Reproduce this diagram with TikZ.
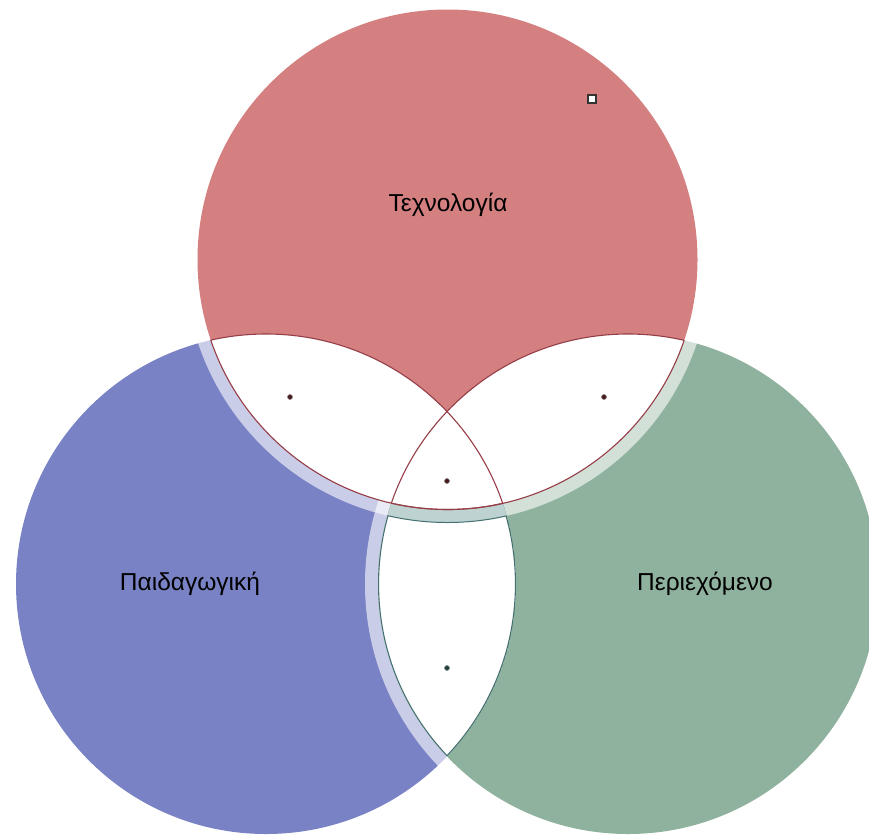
\documentclass[tikz,border=0pt]{standalone}
\usepackage{fontspec}
\setmainfont{Liberation Sans}
\usetikzlibrary{positioning}
\definecolor{techred}{RGB}{212,128,128}
\definecolor{pedblue}{RGB}{121,130,196}
\definecolor{contgreen}{RGB}{143,178,158}
\definecolor{lensred}{RGB}{150,62,72}
\definecolor{lensteal}{RGB}{68,112,112}
\definecolor{halogrey}{RGB}{190,210,210}

\begin{document}
\begin{tikzpicture}[x=1pt,y=-1pt,
    halo/.style={fill=white, fill opacity=0.6},
    edgered/.style={draw=lensred, line width=1.1pt},
    edgeteal/.style={draw=lensteal, line width=2.2pt},
    dot/.style={circle, fill=#1, draw=#1!60, line width=0.6pt, inner sep=0pt, minimum size=5pt},
    setname/.style={font=\fontsize{24.5}{29}\selectfont, text=black}]
    \useasboundingbox (0,0) rectangle (869,835);
    \def\rad{250pt}
    \def\halorad{263pt}
    \coordinate (tech) at (447.5,259.5);
    \coordinate (ped) at (266,584);
    \coordinate (cont) at (628,584);

    % the three sets
    \fill[pedblue] (ped) circle (\rad);
    \fill[halo, even odd rule] (cont) circle (\halorad) (cont) circle (\rad);
    \fill[contgreen] (cont) circle (\rad);
    \fill[halo, even odd rule] (tech) circle (\halorad) (tech) circle (\rad);
    \fill[techred] (tech) circle (\rad);

    % overlap of Paidagogiki and Periechomeno
    \begin{scope}
        \clip (ped) circle (\rad);
        \clip (cont) circle (\rad);
        \fill[white] (ped) circle (\rad);
        \draw[edgeteal] (ped) circle (\rad) (cont) circle (\rad);
        \fill[halogrey, even odd rule] (tech) circle (\halorad) (tech) circle (\rad);
        \draw[draw=lensteal, line width=1pt] (tech) circle (\halorad);
    \end{scope}

    % overlaps with Technologia
    \begin{scope}
        \clip (tech) circle (\rad);
        \fill[white] (ped) circle (\rad);
        \fill[white] (cont) circle (\rad);
        \draw[edgered] (ped) circle (\rad) (cont) circle (\rad);
    \end{scope}
    \begin{scope}
        \clip (ped) circle (\rad);
        \draw[edgered] (tech) circle (\rad);
    \end{scope}
    \begin{scope}
        \clip (cont) circle (\rad);
        \draw[edgered] (tech) circle (\rad);
    \end{scope}

    \node[dot=lensred!45!black] (dtp) at (290,397) {};
    \node[dot=lensred!45!black] (dtc) at (604,397) {};
    \node[dot=lensred!45!black] (dall) at (447,481) {};
    \node[dot=lensteal!55!black] (dpc) at (447,668) {};
    \node[draw=black!80, fill=white, inner sep=0pt, minimum size=8pt, line width=1.2pt] (handle) at (592,99) {};

    \node[setname] (techname) at (448,205) {Τεχνολογία};
    \node[setname] (pedname) at (190,584) {Παιδαγωγική};
    \node[setname] (contname) at (705,584) {Περιεχόμενο};
\end{tikzpicture}
\end{document}
